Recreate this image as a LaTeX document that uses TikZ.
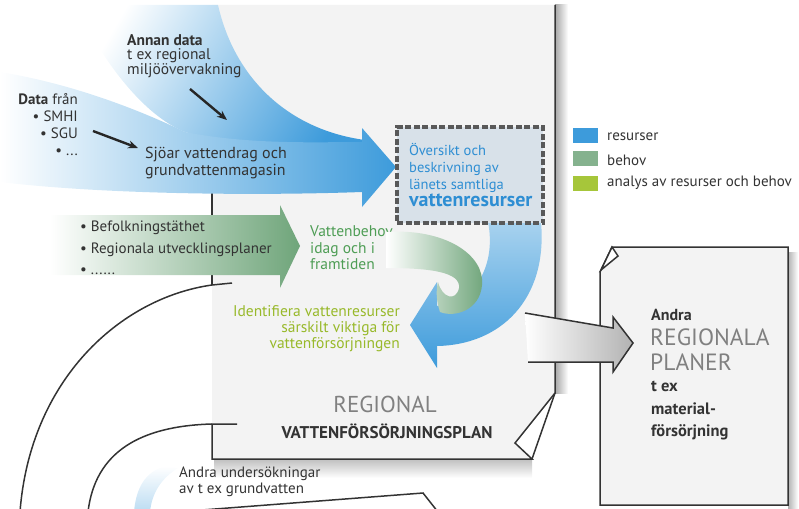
\documentclass[tikz,border=0pt]{standalone}
\usepackage{fontspec}
\setmainfont{PT Sans}
\usetikzlibrary{arrows.meta}

\definecolor{resblue}{HTML}{3D9BDB}
\definecolor{behgreen}{HTML}{6FA57A}
\definecolor{anagreen}{HTML}{A6C63A}
\definecolor{pagegray}{HTML}{F3F3F3}
\definecolor{txtgreen}{HTML}{4E9D55}
\definecolor{txtlime}{HTML}{98B92A}
\definecolor{txtblue}{HTML}{2E8ED3}
\definecolor{boxfill}{HTML}{D8E1E9}

\tikzset{
	edge/.style = { draw = black!80, line width = 1.5pt },
	txt/.style = { inner sep = 0pt, text = black!80, font = \fontsize{15}{16}\selectfont },
	blackarrow/.style = { -{Stealth[length=10pt, width=8pt]}, line width = 2.4pt, black!85 },
	legbox/.style = { minimum width = 25pt, minimum height = 15pt, inner sep = 0pt },
	dashbox/.style = { draw = black!65, fill = boxfill, line width = 3.2pt,
		dash pattern = on 6pt off 2.5pt, minimum width = 146pt, minimum height = 96pt }
}

\begin{document}
\begin{tikzpicture}[x=1pt, y=-1pt]
		\useasboundingbox ( 0, 0 ) rectangle ( 799, 508 );

		% huvudsidan
		\shade [top color = black!25, bottom color = white] ( 214, 459 ) rectangle ( 532, 478 );
		\shade [left color = black!35, right color = white] ( 555, 5 ) rectangle ( 568, 393 );
		\fill [pagegray] ( 212, 5 ) -- ( 555, 5 ) -- ( 555, 393 ) -- ( 532, 459 ) -- ( 212, 459 ) -- cycle;
		\fill [white] ( 555, 393 ) -- ( 515, 443 ) -- ( 532, 459 ) -- cycle;
		\draw [edge] ( 555, 5 ) -- ( 555, 393 ) -- ( 515, 443 ) -- ( 532, 459 ) -- ( 212, 459 ) -- ( 212, 424 ) -- ( 237, 424 );
		\draw [edge] ( 555, 393 ) -- ( 532, 459 );
		\draw [edge] ( 212, 185 ) -- ( 212, 285 );

		% bakre sidor
		\draw [edge] ( 232, 283 ) -- ( 212, 285 ) .. controls ( 120, 298 ) and ( 30, 380 ) .. ( 20, 512 );
		\draw [edge] ( 212, 424 ) .. controls ( 140, 426 ) and ( 95, 452 ) .. ( 88, 512 );
		\shade [top color = white, bottom color = resblue!35] ( 134, 512 ) .. controls ( 136, 488 ) and ( 145, 472 ) .. ( 165, 466 ) -- ( 178, 468 ) .. controls ( 162, 478 ) and ( 152, 492 ) .. ( 150, 512 ) -- cycle;
		\draw [edge] ( 176, 512 ) -- ( 423, 493 ) -- ( 438, 512 );

		% andra regionala planer
		\shade [left color = black!30, right color = white] ( 788, 252 ) rectangle ( 798, 508 );
		\filldraw [edge, fill = pagegray] ( 600, 272 ) -- ( 612, 247 ) -- ( 788, 247 ) -- ( 788, 505 ) -- ( 600, 505 ) -- cycle;
		\filldraw [edge, fill = white] ( 612, 247 ) -- ( 618, 256 ) -- ( 601, 270 ) -- cycle;

		% grå pil
		\shade [left color = white, right color = black!30] ( 525, 313 ) -- ( 613, 328 ) -- ( 613, 317 ) -- ( 633, 343 ) -- ( 613, 372 ) -- ( 613, 362 ) -- ( 528, 362 ) -- cycle;
		\draw [edge] ( 525, 313 ) -- ( 613, 328 ) -- ( 613, 317 ) -- ( 633, 343 ) -- ( 613, 372 ) -- ( 613, 362 ) -- ( 528, 362 );

		% blå pilar
		\shade [left color = white, right color = resblue, shading angle = 60] ( 75, 5 ) .. controls ( 110, 75 ) and ( 150, 118 ) .. ( 185, 132 ) .. controls ( 250, 150 ) and ( 320, 158 ) .. ( 365, 160 ) -- ( 365, 140 ) .. controls ( 290, 130 ) and ( 235, 80 ) .. ( 218, 5 ) -- cycle;
		\shade [left color = white, right color = resblue] ( 0, 72 ) .. controls ( 80, 85 ) and ( 150, 115 ) .. ( 185, 132 ) .. controls ( 250, 145 ) and ( 320, 142 ) .. ( 362, 142 ) -- ( 362, 128 ) -- ( 396, 167 ) -- ( 362, 207 ) -- ( 362, 192 ) .. controls ( 250, 196 ) and ( 100, 194 ) .. ( 0, 182 ) -- cycle;

		% grön pil
		\shade [left color = white, right color = behgreen] ( 50, 215 ) -- ( 280, 215 ) -- ( 280, 205 ) -- ( 300, 246 ) -- ( 280, 288 ) -- ( 280, 275 ) -- ( 50, 275 ) -- cycle;

		% texter till vänster
		\node [txt, anchor = west, align = left, font = \fontsize{15.5}{14.5}\selectfont] (annan) at ( 127, 56 ) {\textbf{Annan data}\\t ex regional\\miljöövervakning};
		\node [txt, anchor = east, align = right, font = \fontsize{15}{17}\selectfont] (datafran) at ( 78, 125 ) {\textbf{Data} från\\• SMHI\\• SGU\\• ...};
		\node [txt, anchor = west, align = left, font = \fontsize{16}{16.5}\selectfont] (sjoar) at ( 145, 163 ) {Sjöar vattendrag och\\grundvattenmagasin};
		\coordinate (sgustart) at ( 93, 131 );
		\coordinate (sguend) at ( 138, 148 );
		\coordinate (annanstart) at ( 190, 89 );
		\coordinate (annanend) at ( 227, 120 );
		\draw [blackarrow] (sgustart) -- (sguend);
		\draw [blackarrow] (annanstart) -- (annanend);
		\node [txt, anchor = west, align = left, font = \fontsize{15}{21.5}\selectfont] (befolkning) at ( 80, 248 ) {• Befolkningstäthet\\• Regionala utvecklingsplaner\\• ......};

		% behov
		\node [txt, anchor = west, align = left, text = txtgreen, font = \fontsize{15.5}{16.5}\selectfont] (vattenbehov) at ( 310, 248 ) {Vattenbehov\\idag och i\\framtiden};

		% cirkelpilar
		\shade [top color = resblue!45, bottom color = resblue] ( 488, 222 ) -- ( 541, 222 ) .. controls ( 548, 300 ) and ( 500, 345 ) .. ( 437, 346 ) -- ( 437, 368 ) -- ( 410, 325 ) -- ( 437, 282 ) -- ( 437, 306 ) .. controls ( 478, 302 ) and ( 496, 262 ) .. ( 488, 222 ) -- cycle;
		\shade [left color = white, right color = behgreen] ( 386, 232 ) .. controls ( 445, 228 ) and ( 485, 255 ) .. ( 482, 285 ) .. controls ( 480, 310 ) and ( 455, 318 ) .. ( 440, 312 ) .. controls ( 436, 300 ) and ( 436, 290 ) .. ( 438, 282 ) .. controls ( 442, 298 ) and ( 456, 302 ) .. ( 459, 288 ) .. controls ( 461, 272 ) and ( 430, 268 ) .. ( 386, 268 ) -- cycle;

		% översikt
		\node [dashbox] (oversikt) at ( 470, 175 ) {};
		\node [txt, anchor = west, align = left, text = txtblue, font = \fontsize{14.5}{17}\selectfont] (oversikttxt) at ( 409, 175 ) {Översikt och\\beskrivning av\\länets samtliga\\{\fontsize{20}{17}\selectfont\bfseries vattenresurser}};

		% identifiera
		\node [txt, anchor = east, align = right, text = txtlime, font = \fontsize{15.5}{16}\selectfont] (identifiera) at ( 400, 329 ) {Identifiera vattenresurser\\särskilt viktiga för\\vattenförsörjningen};

		% planens namn
		\node [txt, text = black!50, font = \fontsize{23}{23}\selectfont] (regional) at ( 385, 404 ) {REGIONAL};
		\node [txt, font = \fontsize{17}{17}\selectfont\bfseries] (vfplan) at ( 387, 431 ) {VATTENFÖRSÖRJNINGSPLAN};

		% legend
		\node [legbox, fill = resblue] (legres) at ( 585, 135 ) {};
		\node [legbox, fill = behgreen!85] (legbeh) at ( 585, 158 ) {};
		\node [legbox, fill = anagreen] (legana) at ( 585, 183 ) {};
		\node [txt, anchor = west] (legrestxt) at ( 607, 137 ) {resurser};
		\node [txt, anchor = west] (legbehtxt) at ( 607, 160 ) {behov};
		\node [txt, anchor = west] (leganatxt) at ( 607, 183 ) {analys av resurser och behov};

		% andra planer
		\node [txt, anchor = west, font = \fontsize{16}{16}\selectfont\bfseries] (andra) at ( 651, 315 ) {Andra};
		\node [txt, anchor = west, align = left, text = black!50, font = \fontsize{23.5}{25}\selectfont] (regplaner) at ( 650, 350 ) {REGIONALA\\PLANER};
		\node [txt, anchor = west, align = left, font = \fontsize{16.5}{22.5}\selectfont\bfseries] (material) at ( 651, 411 ) {t ex\\material-\\försörjning};

		% andra undersökningar
		\node [txt, anchor = west, align = left, font = \fontsize{15}{16}\selectfont] (undersok) at ( 179, 482 ) {Andra undersökningar\\av t ex grundvatten};
	\end{tikzpicture}
\end{document}
